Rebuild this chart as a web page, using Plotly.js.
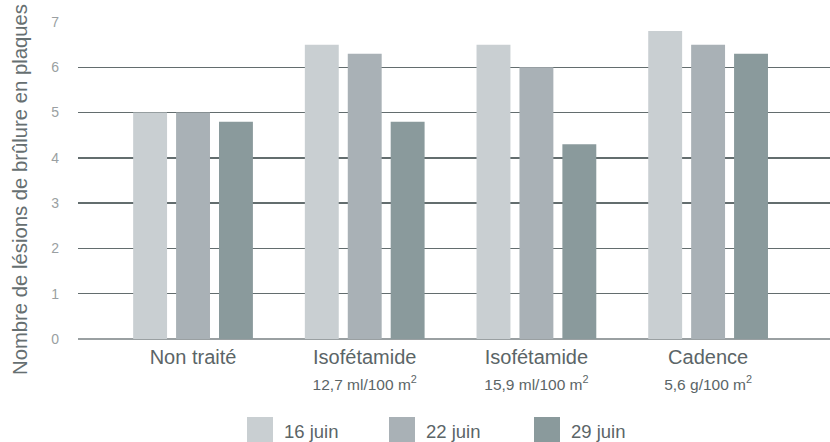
<!DOCTYPE html>
<html>
<head>
<meta charset="utf-8">
<script src="https://cdn.plot.ly/plotly-3.0.1.min.js"></script>
<style>html,body{margin:0;padding:0;background:#fff;}#chart{width:830px;height:442px;}</style>
</head>
<body>
<div id="chart"></div>
<script>
// ---- data ----
const categories = ["Non traité", "Isofétamide 12,7", "Isofétamide 15,9", "Cadence"];
const mainLabels = ["Non traité", "Isofétamide", "Isofétamide", "Cadence"];
const subLabels = ["", "12,7 ml/100 m<sup>2</sup>", "15,9 ml/100 m<sup>2</sup>", "5,6 g/100 m<sup>2</sup>"];
const seriesNames = ["16 juin", "22 juin", "29 juin"];
const juin16 = [5.0, 6.5, 6.5, 6.8];
const juin22 = [5.0, 6.3, 6.0, 6.5];
const juin29 = [4.8, 4.8, 4.3, 6.3];
const yTicks = [0, 1, 2, 3, 4, 5, 6, 7];
const yTitle = "Nombre de lésions de brûlure en plaques";

// ---- style ----
const colors = ["#c9cfd2", "#a9b1b6", "#8a9a9c"];
const REG = "Liberation Sans, Arial, sans-serif";
const textColor = "#5b6567";

const W = 830, H = 442;
const M = {l: 78, r: 0, t: 22, b: 103};
const pw = W - M.l - M.r, ph = H - M.t - M.b;
const px2x = p => (p - M.l) / pw;
const px2y = p => (H - M.b - p) / ph;

const values = [juin16, juin22, juin29];
const traces = values.map((v, i) => ({
  type: "bar",
  name: seriesNames[i],
  x: categories,
  y: v,
  marker: {color: colors[i], line: {width: 0}},
  hoverinfo: "x+y+name"
}));

const tickText = mainLabels.map((m, i) => {
  let s = '<span style="font-size:20px">' + m + '</span>';
  if (subLabels[i]) s += '<br><span style="font-size:15.5px">' + subLabels[i] + '</span>';
  return s;
});

// legend (manual, large swatches)
const legSwatchX = [247, 389, 534];
const legSize = 26, legTop = 417, legTextGap = 11;
const shapes = [], annotations = [];
seriesNames.forEach((n, i) => {
  shapes.push({type: "rect", xref: "paper", yref: "paper",
    x0: px2x(legSwatchX[i]), x1: px2x(legSwatchX[i] + legSize),
    y0: px2y(legTop), y1: px2y(legTop + legSize),
    fillcolor: colors[i], line: {width: 0}});
  annotations.push({xref: "paper", yref: "paper", x: px2x(legSwatchX[i] + legSize + legTextGap - 2),
    y: px2y(legTop + legSize / 2 + 1), xanchor: "left", yanchor: "middle", showarrow: false,
    text: n, font: {family: REG, size: 18.5, color: textColor}});
});
// y-axis title as rotated annotation
annotations.push({xref: "paper", yref: "paper", x: px2x(20), y: px2y(190),
  xanchor: "center", yanchor: "middle", showarrow: false, textangle: -90,
  text: yTitle, font: {family: REG, size: 20.3, color: "#666f71"}});

const layout = {
  width: W, height: H,
  margin: M,
  paper_bgcolor: "#fff", plot_bgcolor: "#fff",
  showlegend: false,
  barmode: "group",
  bargap: 0.25,
  bargroupgap: 0.21,
  xaxis: {
    type: "category",
    range: [-0.67, 3.71],
    tickvals: categories,
    ticktext: tickText,
    tickfont: {family: REG, size: 20, color: textColor},
    ticks: "",
    showgrid: false,
    showline: false,
    zeroline: false,
    ticklabelstandoff: 4,
    automargin: false
  },
  yaxis: {
    range: [0, 7],
    tickvals: yTicks,
    ticktext: yTicks.map(String),
    tickfont: {family: REG, size: 14, color: "#9a9fa2"},
    ticks: "",
    showgrid: true,
    gridcolor: "#636d6e",
    gridwidth: 1.3,
    zeroline: true,
    zerolinecolor: "#9aa0a2",
    zerolinewidth: 2,
    showline: false,
    ticklabelstandoff: 18,
    automargin: false
  },
  shapes: shapes,
  annotations: annotations,
  font: {family: REG, color: textColor}
};

Plotly.newPlot("chart", traces, layout, {displayModeBar: false, staticPlot: true});
</script>
</body>
</html>
